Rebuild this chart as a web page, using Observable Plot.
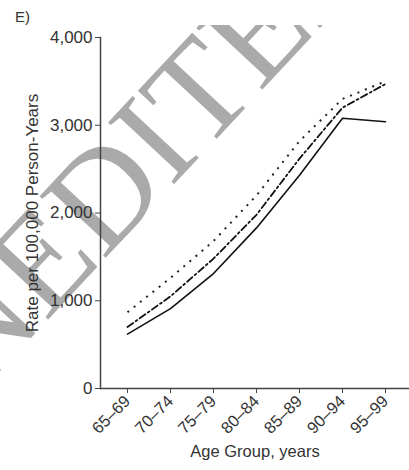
<!DOCTYPE html>
<html>
<head>
<meta charset="utf-8">
<script src="https://cdn.jsdelivr.net/npm/d3@7"></script>
<script src="https://cdn.jsdelivr.net/npm/@observablehq/plot@0.6"></script>
<style>
  html, body { margin: 0; padding: 0; background: #fff; }
  #panel { font-family: "Liberation Sans", Arial, sans-serif; font-size: 15px; color: #333;
           height: 25px; line-height: 34px; padding-left: 15px; }
</style>
</head>
<body>
<div id="panel">E)</div>
<div id="chart"></div>
<script>
const ageGroups = ["65–69", "70–74", "75–79", "80–84", "85–89", "90–94", "95–99"];
const solidSeries   = [620, 910, 1310, 1830, 2430, 3080, 3040];
const dashDotSeries = [700, 1050, 1480, 1980, 2620, 3200, 3470];
const dottedSeries  = [870, 1260, 1680, 2200, 2820, 3300, 3500];
const yTicks = [0, 1000, 2000, 3000, 4000];
const watermark = ["UNEDITED"];

const rows = (vals) => ageGroups.map((a, i) => ({age: a, rate: vals[i]}));

const chart = Plot.plot({
  width: 409,
  height: 445,
  marginLeft: 100,
  marginRight: 0,
  marginTop: 12,
  marginBottom: 82,
  style: {fontFamily: "'Liberation Sans', Arial, sans-serif", color: "#333", background: "transparent"},
  x: {type: "point", domain: ageGroups, range: [100, 412], padding: 0.62},
  y: {domain: [0, 4000]},
  marks: [
    Plot.text(watermark, {text: d => d, frameAnchor: "middle", dx: -140, dy: -30, rotate: -47,
      fontSize: 138, fontFamily: "'Liberation Serif', 'Times New Roman', serif", fill: "#aaaaaa", lineAnchor: "middle"}),
    Plot.frame({anchor: "left", stroke: "#444", strokeWidth: 1.5}),
    Plot.ruleY([0], {stroke: "#444", strokeWidth: 1.5}),
    Plot.axisY({ticks: yTicks, tickFormat: d3.format(","), tickSize: 5, tickPadding: 3, fontSize: 17,
      label: "Rate per 100,000 Person-Years", labelAnchor: "center", labelOffset: 75, labelArrow: "none", stroke: "#444"}),
    Plot.axisX({tickRotate: -45, tickSize: 5, tickPadding: 5, fontSize: 16.5,
      label: "Age Group, years", labelAnchor: "center", labelOffset: 68, labelArrow: "none", stroke: "#444"}),
    Plot.line(rows(dottedSeries), {x: "age", y: "rate", stroke: "#222", strokeWidth: 2, strokeDasharray: "2,6", strokeLinecap: "butt"}),
    Plot.line(rows(dashDotSeries), {x: "age", y: "rate", stroke: "#111", strokeWidth: 1.8, strokeDasharray: "7,3,2,3"}),
    Plot.line(rows(solidSeries), {x: "age", y: "rate", stroke: "#111", strokeWidth: 1.6})
  ]
});
document.getElementById("chart").appendChild(chart);
</script>
</body>
</html>
